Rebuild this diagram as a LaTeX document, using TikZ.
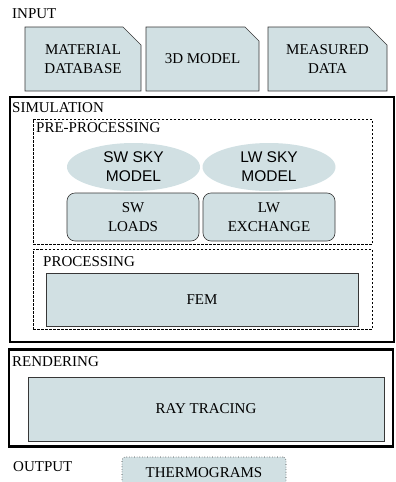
\documentclass[tikz,border=0pt]{standalone}
\usepackage{fontspec}
\setmainfont{Liberation Serif}
\setsansfont{Liberation Sans}
\usetikzlibrary{shapes.geometric,shapes.misc}
\definecolor{boxfill}{RGB}{209,224,227}
\definecolor{boxline}{RGB}{55,55,55}
\begin{document}
\begin{tikzpicture}[x=1pt,y=-1pt,font=\fontsize{15}{19}\selectfont,
  frame/.style={draw, rectangle, line width=2.6pt, inner sep=0},
  group/.style={draw, rectangle, dashed, dash pattern=on 2.5pt off 1.5pt, line width=0.6pt, inner sep=0},
  title/.style={anchor=west, inner sep=0},
  doc/.style={draw=boxline, fill=boxfill, line width=0.6pt, chamfered rectangle,
    chamfered rectangle corners=north east, chamfered rectangle xsep=9pt,
    chamfered rectangle ysep=9pt, minimum height=64pt, inner sep=0, align=center},
  sky/.style={fill=boxfill, ellipse, minimum width=133pt, minimum height=48pt, inner sep=0,
    align=center, font=\sffamily\fontsize{15.5}{19}\selectfont},
  load/.style={draw=boxline, fill=boxfill, line width=0.6pt, rectangle, rounded corners=8pt,
    minimum width=132pt, minimum height=48pt, inner sep=0, align=center},
  task/.style={draw=boxline, fill=boxfill, line width=0.6pt, rectangle, inner sep=0}]
\useasboundingbox (0,0) rectangle (396,482);
% inputs
\node (in) [title] at (12,14) {INPUT};
\node (mat) [doc, minimum width=116pt] at (83,59) {MATERIAL\\DATABASE};
\node (mod) [doc, minimum width=113pt] at (202.5,59) {3D MODEL};
\node (meas) [doc, minimum width=119pt] at (327.5,59) {MEASURED\\DATA};
% simulation
\node (sim) [frame, minimum width=384pt, minimum height=245pt] at (202,219.5) {};
\node (simt) [title] at (12,108) {SIMULATION};
\node (pre) [group, minimum width=339pt, minimum height=125pt] at (202.5,181.5) {};
\node (pret) [title] at (36,128) {PRE-PROCESSING};
\node (swsky) [sky] at (133.5,167) {SW SKY\\MODEL};
\node (lwsky) [sky] at (269,167) {LW SKY\\MODEL};
\node (swl) [load] at (133,217) {SW\\LOADS};
\node (lwe) [load] at (269,217) {LW\\EXCHANGE};
\node (proc) [group, minimum width=339pt, minimum height=80pt] at (202.5,289) {};
\node (proct) [title] at (43,262) {PROCESSING};
\node (fem) [task, minimum width=312pt, minimum height=53pt] at (202,299.5) {FEM};
% rendering
\node (ren) [frame, minimum width=384pt, minimum height=97pt] at (201,398) {};
\node (rent) [title] at (12,362) {RENDERING};
\node (ray) [task, minimum width=356pt, minimum height=64pt] at (206,409) {RAY TRACING};
% output
\node (out) [title] at (13,467) {OUTPUT};
\node (thermo) [draw=boxline, fill=boxfill, dotted, line width=0.6pt, rounded corners=3pt,
  minimum width=164pt, minimum height=32pt, inner sep=0] at (204,473) {THERMOGRAMS};
\end{tikzpicture}
\end{document}
